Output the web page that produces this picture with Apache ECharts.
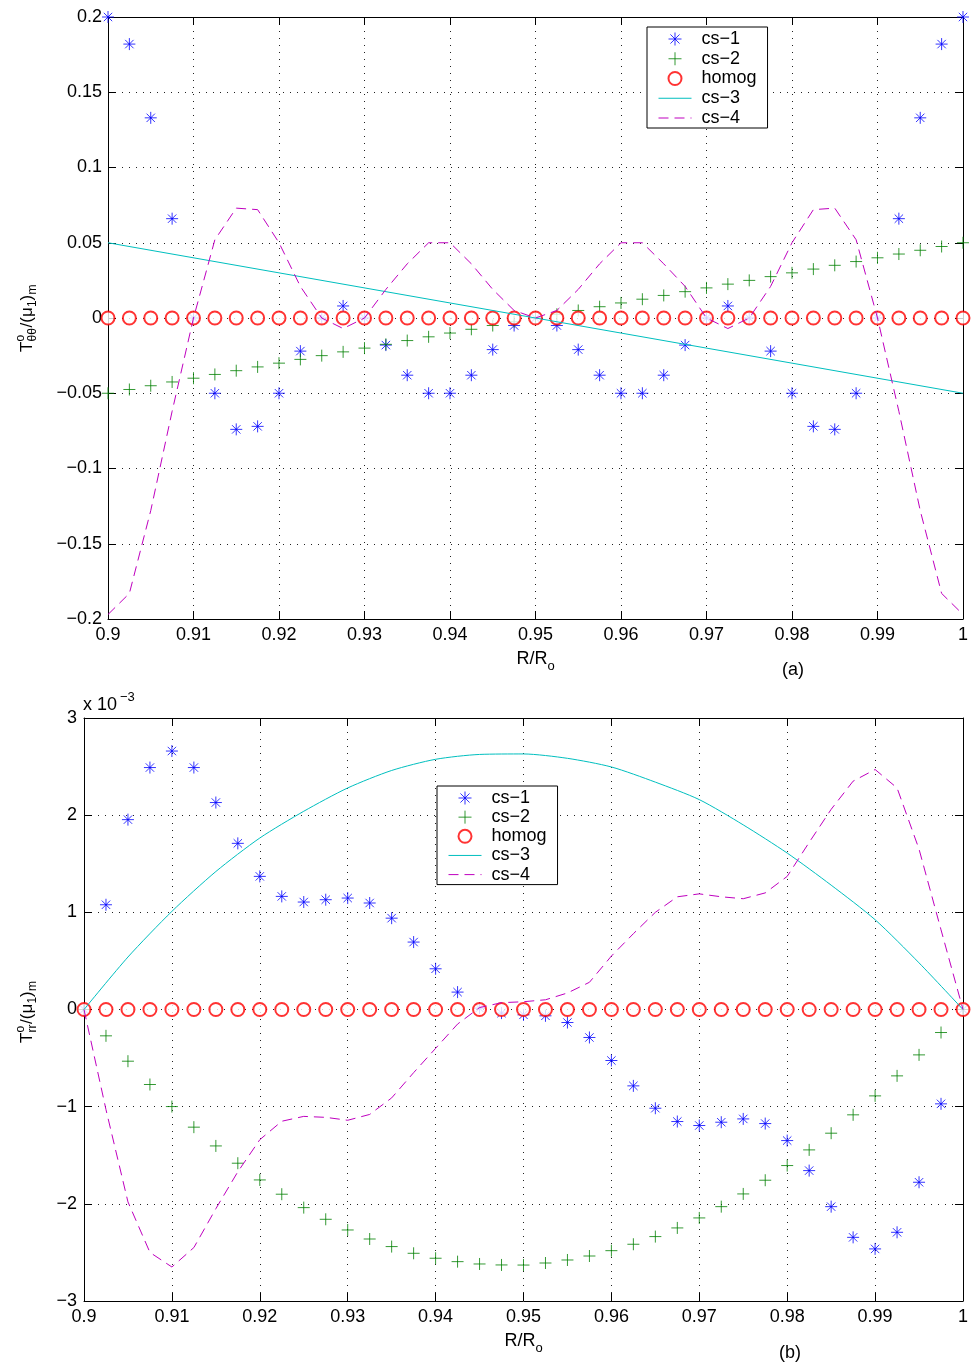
<!DOCTYPE html>
<html>
<head>
<meta charset="utf-8">
<script src="https://cdn.jsdelivr.net/npm/echarts@6/dist/echarts.min.js"></script>
<style>
  html, body { margin: 0; padding: 0; background: #fff; }
  #main { width: 971px; height: 1364px; }
</style>
</head>
<body>
<div id="main"></div>
<script>
// R/Ro sample positions (both panels)
const rPos = [0.9, 0.9025, 0.905, 0.9075, 0.91, 0.9125, 0.915, 0.9175, 0.92, 0.9225,
  0.925, 0.9275, 0.93, 0.9325, 0.935, 0.9375, 0.94, 0.9425, 0.945, 0.9475,
  0.95, 0.9525, 0.955, 0.9575, 0.96, 0.9625, 0.965, 0.9675, 0.97, 0.9725,
  0.975, 0.9775, 0.98, 0.9825, 0.985, 0.9875, 0.99, 0.9925, 0.995, 0.9975, 1.0];

// panel (a) : T_theta theta
const aCs1 = [0.2, 0.182, 0.133, 0.066, 0, -0.05, -0.074, -0.072, -0.05, -0.022,
  0, 0.008, 0, -0.018, -0.038, -0.05, -0.05, -0.038, -0.021, -0.005,
  0, -0.005, -0.021, -0.038, -0.05, -0.05, -0.038, -0.018, 0, 0.008,
  0, -0.022, -0.05, -0.072, -0.074, -0.05, 0, 0.066, 0.133, 0.182, 0.2];
const aCs2 = [-0.05, -0.0475, -0.045, -0.0425, -0.04, -0.0375, -0.035, -0.0325, -0.03, -0.0275,
  -0.025, -0.0225, -0.02, -0.0175, -0.015, -0.0125, -0.01, -0.0075, -0.005, -0.0025,
  0, 0.0025, 0.005, 0.0075, 0.01, 0.0125, 0.015, 0.0175, 0.02, 0.0225,
  0.025, 0.0275, 0.03, 0.0325, 0.035, 0.0375, 0.04, 0.0425, 0.045, 0.0475, 0.05];
const aHomog = [0, 0, 0, 0, 0, 0, 0, 0, 0, 0, 0, 0, 0, 0, 0, 0, 0, 0, 0, 0, 0,
  0, 0, 0, 0, 0, 0, 0, 0, 0, 0, 0, 0, 0, 0, 0, 0, 0, 0, 0, 0];
const aCs3R = [0.9, 0.95, 1.0];
const aCs3 = [0.05, 0, -0.05];
const aCs4 = [-0.197, -0.183, -0.128, -0.062, 0, 0.052, 0.073, 0.072, 0.05, 0.021,
  0, -0.007, 0, 0.019, 0.036, 0.05, 0.05, 0.036, 0.019, 0.005,
  0, 0.005, 0.019, 0.036, 0.05, 0.05, 0.036, 0.021, 0, -0.007,
  0, 0.021, 0.05, 0.072, 0.073, 0.052, 0, -0.062, -0.128, -0.183, -0.197];

// panel (b) : T_rr, in units of 1e-3
const bCs1 = [0, 1.078, 1.954, 2.49, 2.66, 2.49, 2.13, 1.71, 1.37, 1.164,
  1.106, 1.13, 1.147, 1.096, 0.94, 0.694, 0.419, 0.179, 0.014, -0.037,
  -0.055, -0.065, -0.134, -0.288, -0.525, -0.786, -1.016, -1.153, -1.194, -1.16,
  -1.126, -1.174, -1.349, -1.658, -2.029, -2.345, -2.464, -2.293, -1.778, -0.971, 0];
const bCs2 = [0, -0.271, -0.532, -0.772, -0.999, -1.211, -1.404, -1.582, -1.754, -1.901,
  -2.039, -2.159, -2.269, -2.362, -2.44, -2.509, -2.56, -2.595, -2.619, -2.629,
  -2.63, -2.609, -2.578, -2.537, -2.482, -2.416, -2.337, -2.248, -2.145, -2.029,
  -1.898, -1.757, -1.606, -1.445, -1.273, -1.084, -0.889, -0.683, -0.467, -0.237, 0];
const bHomog = [0, 0, 0, 0, 0, 0, 0, 0, 0, 0, 0, 0, 0, 0, 0, 0, 0, 0, 0, 0, 0,
  0, 0, 0, 0, 0, 0, 0, 0, 0, 0, 0, 0, 0, 0, 0, 0, 0, 0, 0, 0];
const bCs3R = [0.9, 0.905, 0.91, 0.915, 0.92, 0.925, 0.93, 0.935, 0.94, 0.945, 0.95,
  0.955, 0.96, 0.965, 0.97, 0.975, 0.98, 0.985, 0.99, 0.995, 1.0];
const bCs3 = [0, 0.54, 1.01, 1.42, 1.765, 2.04, 2.28, 2.46, 2.575, 2.625, 2.63,
  2.585, 2.496, 2.34, 2.16, 1.9, 1.61, 1.28, 0.924, 0.48, 0];
const bCs4 = [0, -1.03, -1.98, -2.5, -2.65, -2.45, -2.05, -1.67, -1.34, -1.15,
  -1.1, -1.11, -1.14, -1.08, -0.91, -0.65, -0.4, -0.15, 0.02, 0.07,
  0.08, 0.1, 0.17, 0.28, 0.55, 0.78, 1.0, 1.16, 1.19, 1.16,
  1.14, 1.2, 1.37, 1.72, 2.06, 2.35, 2.47, 2.28, 1.65, 0.82, 0];

const names = ['cs\u22121', 'cs\u22122', 'homog', 'cs\u22123', 'cs\u22124'];

const FONT = 'Liberation Sans, Arial, Helvetica, sans-serif';
const STAR = 'path://M5,0L5,10M0,5L10,5M1.5,1.5L8.5,8.5M1.5,8.5L8.5,1.5';
const PLUS = 'path://M5,0L5,10M0,5L10,5';
const BLUE = '#0000ff', GREEN = '#008000', RED = '#ff0000', CYAN = '#00bfbf', MAGENTA = '#bf00bf';

function pairs(xs, ys) {
  return xs.map((x, i) => [x, ys[i]]);
}
function minus(v) {
  return String(v).replace('-', '\u2212');
}

function xAxisFor(grid, top) {
  return {
    type: 'value', gridIndex: grid, position: top ? 'top' : 'bottom',
    min: 0.9, max: 1, interval: 0.01,
    axisLine: { show: true, onZero: false, lineStyle: { color: '#000', width: 1 } },
    axisTick: { show: true, inside: true, length: 8, lineStyle: { color: '#000' } },
    axisLabel: { show: !top, margin: 7, color: '#000', fontSize: 18, fontFamily: FONT, formatter: minus },
    splitLine: { show: !top, lineStyle: { color: '#222', type: [1, 6], width: 1 } },
    name: top ? '' : 'R/R{s|o}',
    nameLocation: 'middle',
    nameGap: grid === 0 ? 24 : 22,
    nameTextStyle: {
      color: '#000', fontSize: 18, fontFamily: FONT, lineHeight: 28,
      rich: { s: { fontSize: 13, fontFamily: FONT, color: '#000', verticalAlign: 'bottom', lineHeight: 14 } }
    }
  };
}
function yAxisFor(grid, right, min, max, step) {
  return {
    type: 'value', gridIndex: grid, position: right ? 'right' : 'left',
    min: min, max: max, interval: step,
    axisLine: { show: true, onZero: false, lineStyle: { color: '#000', width: 1 } },
    axisTick: { show: true, inside: true, length: 8, lineStyle: { color: '#000' } },
    axisLabel: { show: !right, margin: grid === 0 ? 6 : 7, color: '#000', fontSize: 18, fontFamily: FONT, formatter: minus },
    splitLine: { show: !right, lineStyle: { color: '#222', type: [1, 6], width: 1 } }
  };
}

function panelSeries(xi, yi, cs1, cs2, homog, cs3R, cs3, cs4, smoothCs3) {
  return [
    {
      name: names[0], type: 'scatter', xAxisIndex: xi, yAxisIndex: yi,
      data: pairs(rPos, cs1), symbol: STAR, symbolSize: 12,
      itemStyle: { color: BLUE, borderColor: BLUE, borderWidth: 1 }
    },
    {
      name: names[1], type: 'scatter', xAxisIndex: xi, yAxisIndex: yi,
      data: pairs(rPos, cs2), symbol: PLUS, symbolSize: 12,
      itemStyle: { color: GREEN, borderColor: GREEN, borderWidth: 1 }
    },
    {
      name: names[2], type: 'scatter', xAxisIndex: xi, yAxisIndex: yi,
      data: pairs(rPos, homog), symbol: 'emptyCircle', symbolSize: 13,
      itemStyle: { color: RED, borderColor: RED, borderWidth: 1 }
    },
    {
      name: names[3], type: 'line', xAxisIndex: xi, yAxisIndex: yi,
      data: pairs(cs3R, cs3), symbol: 'none', smooth: smoothCs3 ? 0.25 : false,
      lineStyle: { color: CYAN, width: 1 }, itemStyle: { color: CYAN }
    },
    {
      name: names[4], type: 'line', xAxisIndex: xi, yAxisIndex: yi,
      data: pairs(rPos, cs4), symbol: 'none',
      lineStyle: { color: MAGENTA, width: 1, type: [10, 6] }, itemStyle: { color: MAGENTA }
    }
  ];
}

function legendAt(left, top, gap) {
  return {
    orient: 'vertical', left: left, top: top,
    data: names.map((n, i) => i < 3 ? { name: n } : { name: n, itemStyle: { opacity: 0 } }),
    itemWidth: 33, itemHeight: 13, itemGap: gap,
    padding: [3, 11, 1, 11],
    borderColor: '#000', borderWidth: 1, backgroundColor: '#fff',
    itemStyle: { borderWidth: 1 },
    lineStyle: { width: 1 },
    textStyle: { color: '#000', fontSize: 18, fontFamily: FONT, lineHeight: 18, padding: [0, 0, 0, 5] }
  };
}

function yLabel(x, y, sub, subW) {
  const big = { fontSize: 17, fontFamily: FONT, fill: '#000', verticalAlign: 'middle' };
  const small = { fontSize: 12, fontFamily: FONT, fill: '#000', verticalAlign: 'middle' };
  const p = 10.5 + subW;
  return {
    type: 'group', x: x, y: y, rotation: Math.PI / 2,
    children: [
      { type: 'text', x: 0, y: 0, style: Object.assign({ text: 'T' }, big) },
      { type: 'text', x: 10.5, y: -6, style: Object.assign({ text: 'o' }, small) },
      { type: 'text', x: 10.5, y: 6, style: Object.assign({ text: sub }, small) },
      { type: 'text', x: p, y: 0, style: Object.assign({ text: '/(\u03bc' }, big) },
      { type: 'text', x: p + 20.5, y: 6, style: Object.assign({ text: '1' }, small) },
      { type: 'text', x: p + 27, y: 0, style: Object.assign({ text: ')' }, big) },
      { type: 'text', x: p + 33, y: 6, style: Object.assign({ text: 'm' }, small) }
    ]
  };
}

const chart = echarts.init(document.getElementById('main'), null, { renderer: 'canvas' });
chart.setOption({
  backgroundColor: '#fff',
  animation: false,
  grid: [
    { left: 108, right: 5, top: 17, height: 602 },
    { left: 84, right: 5, top: 718, height: 583 }
  ],
  xAxis: [xAxisFor(0, false), xAxisFor(0, true), xAxisFor(1, false), xAxisFor(1, true)],
  yAxis: [
    yAxisFor(0, false, -0.2, 0.2, 0.05), yAxisFor(0, true, -0.2, 0.2, 0.05),
    yAxisFor(1, false, -3, 3, 1), yAxisFor(1, true, -3, 3, 1)
  ],
  legend: [legendAt(647, 27, 1.75), legendAt(437, 786, 1.15)],
  series: [].concat(
    panelSeries(0, 0, aCs1, aCs2, aHomog, aCs3R, aCs3, aCs4, false),
    panelSeries(2, 2, bCs1, bCs2, bHomog, bCs3R, bCs3, bCs4, true)
  ),
  graphic: [
    yLabel(27, 352, '\u03b8\u03b8', 14),
    yLabel(27, 1043, 'rr', 8.5),
    { type: 'text', x: 793, y: 670, style: { text: '(a)', fontSize: 18, fontFamily: FONT, fill: '#000', align: 'center', verticalAlign: 'middle' } },
    { type: 'text', x: 790, y: 1353, style: { text: '(b)', fontSize: 18, fontFamily: FONT, fill: '#000', align: 'center', verticalAlign: 'middle' } },
    { type: 'text', x: 83, y: 705, style: { text: 'x 10', fontSize: 18, fontFamily: FONT, fill: '#000', verticalAlign: 'middle' } },
    { type: 'text', x: 120, y: 697, style: { text: '\u22123', fontSize: 13, fontFamily: FONT, fill: '#000', verticalAlign: 'middle' } }
  ]
});
</script>
</body>
</html>
